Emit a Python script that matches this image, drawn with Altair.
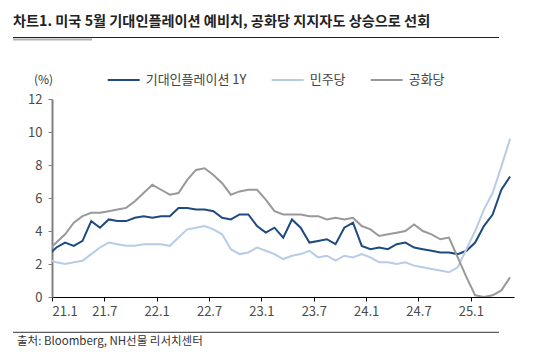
import altair as alt
import pandas as pd

# ---- data (monthly, Dec 2020 .. May 2025) ----
months = [f"{y}-{m:02d}" for y in range(2020, 2026) for m in range(1, 13)]
months = months[months.index("2020-12"):months.index("2025-05") + 1]

inflation_1y = [2.5,
                3.0, 3.3, 3.1, 3.4, 4.6, 4.2, 4.7, 4.6, 4.6, 4.8, 4.9, 4.8,
                4.9, 4.9, 5.4, 5.4, 5.3, 5.3, 5.2, 4.8, 4.7, 5.0, 5.0, 4.3,
                3.9, 4.2, 3.6, 4.7, 4.2, 3.3, 3.4, 3.5, 3.2, 4.2, 4.5, 3.1,
                2.9, 3.0, 2.9, 3.2, 3.3, 3.0, 2.9, 2.8, 2.7, 2.7, 2.6, 2.8,
                3.3, 4.3, 5.0, 6.5, 7.3]
democrats = [2.3,
             2.1, 2.0, 2.1, 2.2, 2.6, 3.0, 3.3, 3.2, 3.1, 3.1, 3.2, 3.2,
             3.2, 3.1, 3.6, 4.1, 4.2, 4.3, 4.1, 3.8, 2.9, 2.6, 2.7, 3.0,
             2.8, 2.6, 2.3, 2.5, 2.6, 2.8, 2.4, 2.5, 2.2, 2.5, 2.4, 2.6,
             2.4, 2.1, 2.1, 2.0, 2.1, 1.9, 1.8, 1.7, 1.6, 1.5, 1.8, 2.9,
             4.0, 5.3, 6.3, 7.9, 9.6]
republicans = [2.8,
               3.3, 3.8, 4.5, 4.9, 5.1, 5.1, 5.2, 5.3, 5.4, 5.8, 6.3, 6.8,
               6.5, 6.2, 6.3, 7.1, 7.7, 7.8, 7.4, 6.9, 6.2, 6.4, 6.5, 6.5,
               5.9, 5.2, 5.0, 5.0, 5.0, 4.9, 4.9, 4.7, 4.8, 4.7, 4.8, 4.3,
               4.1, 3.7, 3.8, 3.9, 4.0, 4.4, 4.0, 3.8, 3.5, 3.6, 2.4, 1.2,
               0.1, 0.0, 0.1, 0.4, 1.2]

series_names = ["기대인플레이션 1Y", "민주당", "공화당"]
series_colors = ["#1F4A80", "#B7CCE6", "#999999"]
tick_values = [0, 6, 12, 18, 24, 30, 36, 42, 48]
tick_labels = ["21.1", "21.7", "22.1", "22.7", "23.1", "23.7", "24.1", "24.7", "25.1"]
y_ticks = [0, 2, 4, 6, 8, 10, 12]

title_text = "차트1. 미국 5월 기대인플레이션 예비치, 공화당 지지자도 상승으로 선회"
source_text = "출처: Bloomberg, NH선물 리서치센터"
FONT = "Noto Sans CJK KR"

rows = []
for name, vals in zip(series_names, [inflation_1y, democrats, republicans]):
    for i, (m, v) in enumerate(zip(months, vals)):
        # month-end position: Jan 2021 sits half a month right of the axis start
        rows.append({"series": name, "month": m, "t": i - 0.5, "value": v,
                     "order": series_names.index(name)})
df = pd.DataFrame(rows)

label_expr = "[" + ",".join(f"'{s}'" for s in tick_labels) + "][round(datum.value/6)]"

lines = alt.Chart(df).mark_line(strokeWidth=2, clip=True).encode(
    x=alt.X("t:Q",
            scale=alt.Scale(domain=[0, 52.95], nice=False, zero=False),
            axis=alt.Axis(values=tick_values, labelExpr=label_expr, title=None,
                          grid=False, domainColor="#000000", domainWidth=1,
                          tickColor="#000000", tickSize=4, labelPadding=4,
                          labelFont=FONT, labelFontSize=13, labelColor="#4a4a4a")),
    y=alt.Y("value:Q",
            scale=alt.Scale(domain=[0, 12], nice=False),
            axis=alt.Axis(values=y_ticks, title="(%)", titleAngle=0, titleX=-9, titleY=-20,
                          titleAlign="center", titleBaseline="middle",
                          titleFont=FONT, titleFontSize=12, titleFontWeight="normal",
                          titleColor="#333333",
                          grid=False, domainColor="#808080", domainWidth=2,
                          tickColor="#808080", tickSize=4, labelPadding=6,
                          labelFont=FONT, labelFontSize=13, labelColor="#4a4a4a")),
    color=alt.Color("series:N",
                    scale=alt.Scale(domain=series_names, range=series_colors),
                    legend=alt.Legend(orient="none", legendX=54.7, legendY=-36,
                                      direction="horizontal", title=None,
                                      symbolType="stroke", symbolSize=1024,
                                      symbolStrokeWidth=2, labelFont=FONT,
                                      labelFontSize=13, labelColor="#444444",
                                      labelOffset=5, columnPadding=21, padding=0)),
    detail="series:N",
    order="order:Q",
)

one = pd.DataFrame({"txt": [title_text]})
title = alt.Chart(one).mark_text(font=FONT, fontSize=14.2, fontWeight="bold",
                                 align="left", baseline="middle", color="#222222").encode(
    text="txt:N", x=alt.value(-39), y=alt.value(-77))

src = alt.Chart(pd.DataFrame({"txt": [source_text]})).mark_text(
    font=FONT, fontSize=11.5, align="left", baseline="middle", color="#333333").encode(
    text="txt:N", x=alt.value(-35), y=alt.value(242.7))

rule_data = pd.DataFrame({"k": [0]})
top_rule = alt.Chart(rule_data).mark_rule(color="#222222", strokeWidth=1).encode(
    x=alt.value(-39), x2=alt.value(447), y=alt.value(-61.5))
top_shade = alt.Chart(rule_data).mark_rule(color="#b0b0b0", strokeWidth=2).encode(
    x=alt.value(-39), x2=alt.value(40), y=alt.value(-59.5))
bot_rule = alt.Chart(rule_data).mark_rule(color="#333333", strokeWidth=1).encode(
    x=alt.value(-39), x2=alt.value(447), y=alt.value(233.3))

chart = alt.layer(lines, title, src, top_rule, top_shade, bot_rule).properties(
    width=462, height=198,
    autosize=alt.AutoSizeParams(type="none"),
    padding={"left": 44, "top": 91, "right": 22, "bottom": 53},
    background="white",
).configure_view(stroke=None)

chart.save("out.html", embed_options={"renderer": "svg", "actions": False})
